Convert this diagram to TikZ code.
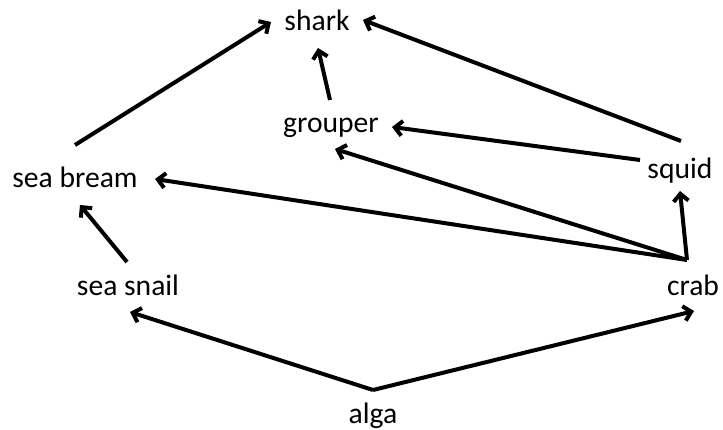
\documentclass[tikz,border=0pt]{standalone}
\usepackage{fontspec}
\setmainfont{Carlito}
\usetikzlibrary{arrows.meta}
\begin{document}
\begin{tikzpicture}[x=1pt,y=-1pt,
  species/.style={inner sep=0pt, anchor=base, font=\fontsize{29.6}{32}\selectfont},
  feeds/.style={line width=4pt, -{Straight Barb[angle=90:10.5pt, line width=4pt]}}]
  \useasboundingbox (0,0) rectangle (723,430);
  % species labels
  \node[species] (shark)   at (317,31)  {shark};
  \node[species] (grouper) at (331,133) {grouper};
  \node[species] (bream)   at (75,188)  {sea bream};
  \node[species] (squid)   at (680,179) {squid};
  \node[species] (snail)   at (128,296) {sea snail};
  \node[species] (crab)    at (693,296) {crab};
  \node[species] (alga)    at (373,423) {alga};
  % connector end points next to the labels
  \coordinate (alga-out)    at (373,390);
  \coordinate (snail-in)    at (130,312);
  \coordinate (crab-in)     at (694,311);
  \coordinate (snail-out)   at (127,262);
  \coordinate (bream-in)    at (80,205);
  \coordinate (bream-out)   at (75,145);
  \coordinate (bream-in2)   at (155,179);
  \coordinate (shark-in1)   at (271,22);
  \coordinate (shark-in2)   at (318,48);
  \coordinate (shark-in3)   at (363,20);
  \coordinate (grouper-out) at (330,100);
  \coordinate (grouper-in1) at (392,127);
  \coordinate (grouper-in2) at (335,149);
  \coordinate (squid-out1)  at (681,141);
  \coordinate (squid-out2)  at (640,160);
  \coordinate (squid-in)    at (680,191);
  \coordinate (crab-out)    at (687,260);
  % who eats whom
  \draw[feeds] (alga-out) -- (snail-in);
  \draw[feeds] (alga-out) -- (crab-in);
  \draw[feeds] (snail-out) -- (bream-in);
  \draw[feeds] (bream-out) -- (shark-in1);
  \draw[feeds] (grouper-out) -- (shark-in2);
  \draw[feeds] (squid-out1) -- (shark-in3);
  \draw[feeds] (squid-out2) -- (grouper-in1);
  \draw[feeds] (crab-out) -- (squid-in);
  \draw[feeds] (crab-out) -- (grouper-in2);
  \draw[feeds] (crab-out) -- (bream-in2);
\end{tikzpicture}
\end{document}
